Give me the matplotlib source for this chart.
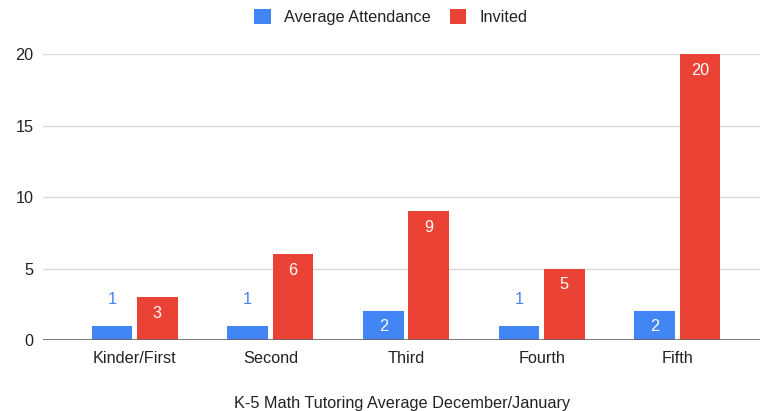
import matplotlib
matplotlib.use("Agg")
import matplotlib.pyplot as plt
import numpy as np

categories = ["Kinder/First", "Second", "Third", "Fourth", "Fifth"]
attendance = [1, 1, 2, 1, 2]
invited = [3, 6, 9, 5, 20]
yticks = [0, 5, 10, 15, 20]

BLUE = "#4285F4"
RED = "#EA4335"

plt.rcParams['font.family'] = ['Liberation Sans', 'DejaVu Sans']
FS = 11.7

fig = plt.figure(figsize=(7.6, 4.11), dpi=100)
ax = fig.add_axes([0.057, 0.1727, 0.943, 0.6959])

x = np.arange(len(categories))
w = 0.3
off = 0.167
b1 = ax.bar(x - off, attendance, w, color=BLUE, zorder=3, label="Average Attendance")
b2 = ax.bar(x + off, invited, w, color=RED, zorder=3, label="Invited")

ax.set_ylim(0, 20)
ax.set_xlim(-0.674, 4.61)
ax.set_yticks(yticks)
ax.set_xticks(x)
ax.set_xticklabels(categories)
ax.tick_params(axis='both', length=0, labelsize=FS, colors="#222222")
ax.tick_params(axis='x', pad=8)
ax.tick_params(axis='y', pad=7)
ax.grid(axis='y', color="#d9d9d9", linewidth=1, zorder=0)
ax.axhline(0, color="#666666", linewidth=1.2, zorder=4)
for s in ax.spines.values():
    s.set_visible(False)
ax.set_xlabel("K-5 Math Tutoring Average December/January", fontsize=FS, color="#222222", labelpad=21.5)

def px2data(px):
    return px / 71.5 * 5

for xi, v in zip(x - off, attendance):
    if v >= 2:
        ax.text(xi, v - px2data(15), str(v), ha='center', va='center', color='white', fontsize=FS, zorder=5)
    else:
        ax.text(xi, v + px2data(26), str(v), ha='center', va='center', color=BLUE, fontsize=FS, zorder=5)
for xi, v in zip(x + off, invited):
    ax.text(xi, v - px2data(16), str(v), ha='center', va='center', color='white', fontsize=FS, zorder=5)

leg = fig.legend(handles=[b1, b2], loc='center', bbox_to_anchor=(0.514, 0.958), ncol=2,
                 frameon=False, fontsize=FS, handlelength=1.0, handleheight=1.0,
                 handletextpad=0.8, columnspacing=1.2)
for t in leg.get_texts():
    t.set_color("#222222")

fig.savefig("out.png", dpi=100)
